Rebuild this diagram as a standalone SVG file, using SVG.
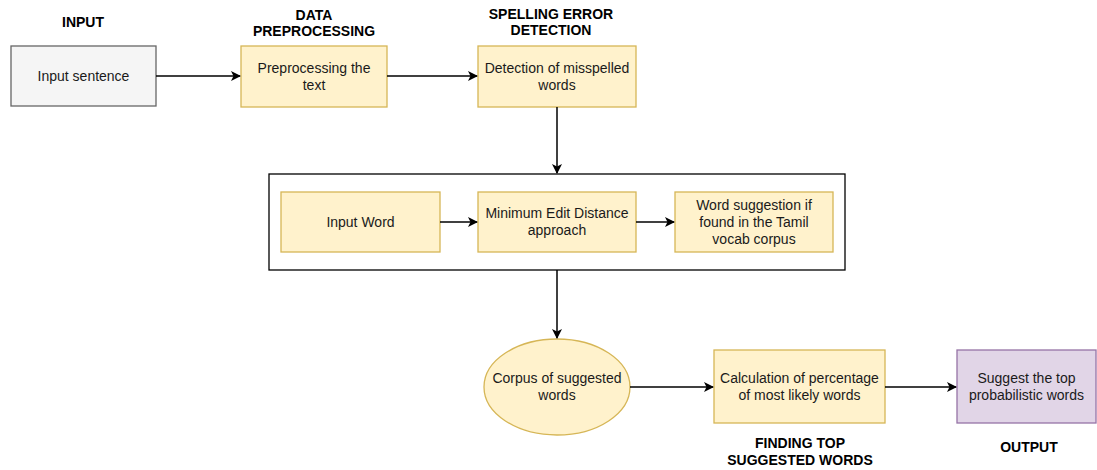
<svg xmlns="http://www.w3.org/2000/svg" width="1097" height="470" viewBox="0 0 1097 470">
<defs>
<marker id="ah" viewBox="0 0 10 10" refX="9" refY="5" markerWidth="10" markerHeight="10" markerUnits="userSpaceOnUse" orient="auto">
<path d="M0,0 L10,5 L0,10 L2.5,5 Z" fill="#000"/>
</marker>
</defs>
<style>
text{font-family:"Liberation Sans",Arial,sans-serif;font-size:14px;fill:#1a1a1a;text-anchor:middle}
.h{font-weight:bold;fill:#000}
.y{fill:#fff2cc;stroke:#d6b656;stroke-width:1.3}
.g{fill:#f5f5f5;stroke:#666666;stroke-width:1.3}
.p{fill:#e1d5e7;stroke:#9673a6;stroke-width:1.3}
.c{fill:none;stroke:#000;stroke-width:1.3}
.e{fill:none;stroke:#000;stroke-width:1.5;marker-end:url(#ah)}
</style>
<g id="labels">
<text class="h" x="83" y="27">INPUT</text>
<text class="h" x="314" y="20">DATA</text>
<text class="h" x="314" y="36">PREPROCESSING</text>
<text class="h" x="551" y="19">SPELLING ERROR</text>
<text class="h" x="551" y="35">DETECTION</text>
<text class="h" x="800" y="448">FINDING TOP</text>
<text class="h" x="800" y="465">SUGGESTED WORDS</text>
<text class="h" x="1029" y="452">OUTPUT</text>
</g>
<g id="n-input"><rect class="g" x="11" y="46" width="145" height="60"/><text x="83.5" y="81">Input sentence</text></g>
<g id="n-pre"><rect class="y" x="241" y="46" width="146" height="61"/><text x="314" y="73">Preprocessing the</text><text x="314" y="90">text</text></g>
<g id="n-detect"><rect class="y" x="478" y="46" width="158" height="61"/><text x="557" y="73">Detection of misspelled</text><text x="557" y="90">words</text></g>
<g id="n-container"><rect class="c" x="269" y="174" width="576" height="96"/></g>
<g id="n-inword"><rect class="y" x="281" y="192" width="159" height="60"/><text x="360.5" y="227">Input Word</text></g>
<g id="n-med"><rect class="y" x="478" y="192" width="158" height="60"/><text x="557" y="218">Minimum Edit Distance</text><text x="557" y="235">approach</text></g>
<g id="n-sugg"><rect class="y" x="675" y="192" width="158" height="60"/><text x="754" y="210">Word suggestion if</text><text x="754" y="227">found in the Tamil</text><text x="754" y="244">vocab corpus</text></g>
<g id="n-corpus"><ellipse class="y" cx="557" cy="387" rx="73" ry="48"/><text x="557" y="383">Corpus of suggested</text><text x="557" y="400">words</text></g>
<g id="n-calc"><rect class="y" x="714" y="350" width="171" height="73"/><text x="799.5" y="383">Calculation of percentage</text><text x="799.5" y="400">of most likely words</text></g>
<g id="n-out"><rect class="p" x="957" y="350" width="139" height="73"/><text x="1026.5" y="383">Suggest the top</text><text x="1026.5" y="400">probabilistic words</text></g>
<g id="connectors">
<path class="e" d="M156,76 H240"/>
<path class="e" d="M387,76 H477"/>
<path class="e" d="M557,107 V173"/>
<path class="e" d="M440,222 H477"/>
<path class="e" d="M636,222 H674"/>
<path class="e" d="M557,270 V338"/>
<path class="e" d="M630,387 H713"/>
<path class="e" d="M885,387 H956"/>
</g>
</svg>
